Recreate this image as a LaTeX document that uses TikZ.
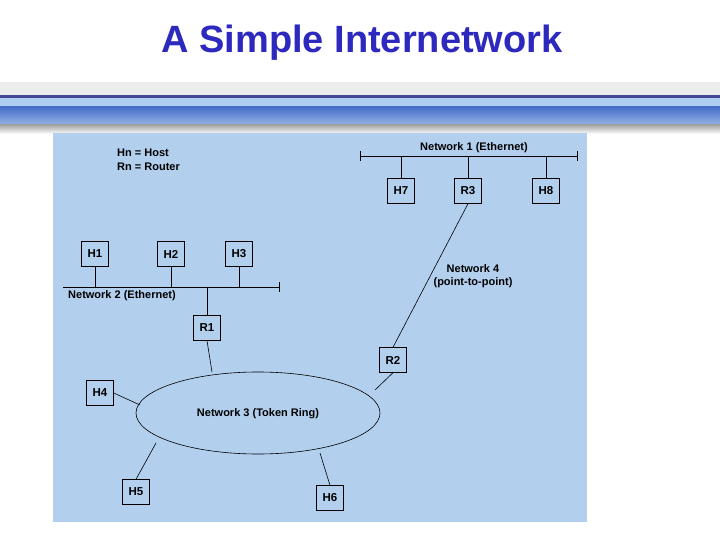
\documentclass[tikz,border=0pt]{standalone}
\usepackage{fontspec}
\setmainfont{Liberation Sans}
\definecolor{panel}{RGB}{178,207,238}
\definecolor{ttl}{RGB}{45,40,190}
\definecolor{bardark}{RGB}{70,70,150}
\definecolor{barlight}{RGB}{175,205,240}
\definecolor{barmid}{RGB}{70,110,200}
\definecolor{barlow}{RGB}{150,180,230}
\begin{document}
\begin{tikzpicture}[x=1pt,y=-1pt,
  box/.style={draw,fill=panel,minimum width=27pt,minimum height=25pt,inner sep=0pt,font=\bfseries\fontsize{11.5}{13}\selectfont},
  lbl/.style={font=\bfseries\fontsize{11}{13.5}\selectfont,inner sep=1pt},
  ln/.style={line width=0.6pt}]
\useasboundingbox (0,0) rectangle (720,540);
\fill[white] (0,0) rectangle (720,540);
% top bars
\fill[gray!15] (0,82) rectangle (720,95);
\fill[bardark] (0,95) rectangle (720,98);
\fill[barlight] (0,98) rectangle (720,107);
\shade[top color=barmid,bottom color=barlow] (0,107) rectangle (720,125);
\shade[top color=gray!70,bottom color=white] (0,125) rectangle (720,134);
\node[font=\bfseries\fontsize{38}{44}\selectfont,text=ttl] (title) at (362,43) {A Simple Internetwork};
\fill[panel] (53,133) rectangle (587,522);
% legend
\node[lbl,align=left,anchor=north west] (leg) at (116,148) {Hn = Host\\Rn = Router};
% Network 1
\coordinate (n1a) at (360,156); \coordinate (n1b) at (577,156);
\draw[ln] (n1a) -- (n1b);
\draw[ln] (n1a)+(0,-5) -- +(0,5); \draw[ln] (n1b)+(0,-5) -- +(0,5);
\node[lbl,anchor=south] (n1l) at (474,154) {Network 1 (Ethernet)};
\node[box] (H7) at (401,191) {H7};
\node[box] (R3) at (468,191) {R3};
\node[box] (H8) at (546,191) {H8};
\foreach \n in {H7,R3,H8} \draw[ln] (\n.north) -- (\n.north |- n1a);
% Network 2
\coordinate (n2a) at (63,287); \coordinate (n2b) at (279,287);
\draw[ln] (n2a) -- (n2b);
\draw[ln] (n2b)+(0,-5) -- +(0,5);
\node[lbl,anchor=north west] (n2l) at (67,289) {Network 2 (Ethernet)};
\node[box] (H1) at (95,254) {H1};
\node[box] (H2) at (171,254) {H2};
\node[box] (H3) at (239,254) {H3};
\foreach \n in {H1,H2,H3} \draw[ln] (\n.south) -- (\n.south |- n2a);
\node[box] (R1) at (207,328) {R1};
\draw[ln] (R1.north) -- (R1.north |- n2a);
% Network 4
\node[box] (R2) at (393,360) {R2};
\draw[ln] (R3.south) -- (R2.north);
\node[lbl,align=center] (n4l) at (473,276) {Network 4\\(point-to-point)};
% Network 3
\draw[ln,fill=panel] (258,413) ellipse [x radius=122,y radius=41];
\node[lbl] (n3l) at (258,414) {Network 3 (Token Ring)};
\node[box] (H4) at (100,393) {H4};
\node[box] (H5) at (136,492) {H5};
\node[box] (H6) at (330,498) {H6};
\draw[ln] (R1.south) -- (212,372);
\draw[ln] (R2.south) -- (375,390);
\draw[ln] (H4.east) -- (140,405);
\draw[ln] (H5.north) -- (156,443);
\draw[ln] (H6.north) -- (320,453);
\end{tikzpicture}
\end{document}
